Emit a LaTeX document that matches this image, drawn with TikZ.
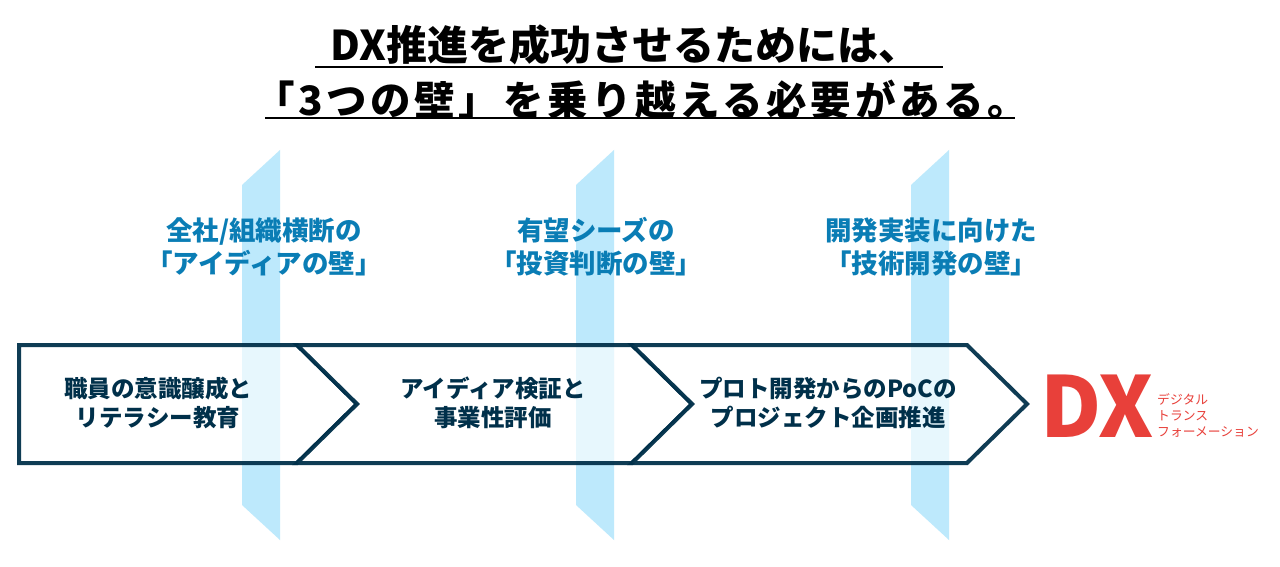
\documentclass[tikz,border=0pt]{standalone}
\usepackage{fontspec}
\newfontfamily\jp{Noto Sans CJK JP}
\newfontfamily\jpwide{Noto Sans CJK JP}[LetterSpace=9]
\definecolor{navy}{HTML}{00304A}
\definecolor{wallblue}{HTML}{BDE9FC}
\definecolor{labelblue}{HTML}{0A7DB5}
\definecolor{dxred}{HTML}{E8403A}
\begin{document}
\begin{tikzpicture}[x=1pt,y=-1pt,
  wallshape/.style={fill=wallblue,draw=none},
  chev/.style={fill=white,fill opacity=0.65,draw=navy,draw opacity=0.94,line width=4pt,line join=miter},
  boxtext/.style={text=navy,font=\jp\bfseries\fontsize{23.5}{29.5}\selectfont,align=center,inner sep=0pt},
  walltext/.style={text=labelblue,font=\jp\bfseries\fontsize{26.5}{33}\selectfont,align=center,inner sep=0pt},
  titletext/.style={text=black,font=\jp\bfseries\fontsize{41}{48}\selectfont,inner sep=0pt},
  titlewide/.style={text=black,font=\jpwide\bfseries\fontsize{40.5}{48}\selectfont,inner sep=0pt},
  uline/.style={draw=black,line width=2pt},
  dxsmall/.style={text=dxred,font=\jp\fontsize{12.8}{15}\selectfont,anchor=west,inner sep=0pt}
]
\useasboundingbox (0,0) rectangle (1280,567);
\fill[white] (0,0) rectangle (1280,567);
% title
\node[titletext] (ttl1) at (625,45) {DX推進を成功させるためには、};
\node[titlewide] (ttl2) at (641,100) {「3つの壁」を乗り越える必要がある。};
\coordinate (u1a) at (315,67); \coordinate (u1b) at (943,67);
\coordinate (u2a) at (265,118); \coordinate (u2b) at (1015,118);
\draw[uline] (u1a) -- (u1b);
\draw[uline] (u2a) -- (u2b);
% walls
\foreach \wx in {242,576,911}{
  \fill[wallshape] (\wx,185) -- (\wx+38,150) -- (\wx+38,540) -- (\wx,505) -- cycle;
}
% chevrons
\draw[chev] (19,345) -- (297,345) -- (357,404) -- (297,463) -- (19,463) -- cycle;
\draw[chev] (297,345) -- (632,345) -- (692,404) -- (632,463) -- (297,463) -- (357,404) -- cycle;
\draw[chev] (632,345) -- (967,345) -- (1027,404) -- (967,463) -- (632,463) -- (692,404) -- cycle;
% box texts
\node[boxtext] (b1) at (158,403) {職員の意識醸成と\\リテラシー教育};
\node[boxtext] (b2) at (493,403) {アイディア検証と\\事業性評価};
\node[boxtext] (b3) at (828,403) {プロト開発からのPoCの\\プロジェクト企画推進};
% wall labels
\node[walltext] (w1) at (264,247) {全社/組織横断の\\「アイディアの壁」};
\node[walltext] (w2) at (596,247) {有望シーズの\\「投資判断の壁」};
\node[walltext] (w3) at (931,247) {開発実装に向けた\\「技術開発の壁」};
% DX logo
\node[text=dxred,font=\jp\bfseries\fontsize{84}{84}\selectfont,inner sep=0pt] (dx) at (1097,406) {DX};
\node[dxsmall] (d1) at (1157,399) {デジタル};
\node[dxsmall] (d2) at (1157,416) {トランス};
\node[dxsmall] (d3) at (1157,432) {フォーメーション};
\end{tikzpicture}
\end{document}
